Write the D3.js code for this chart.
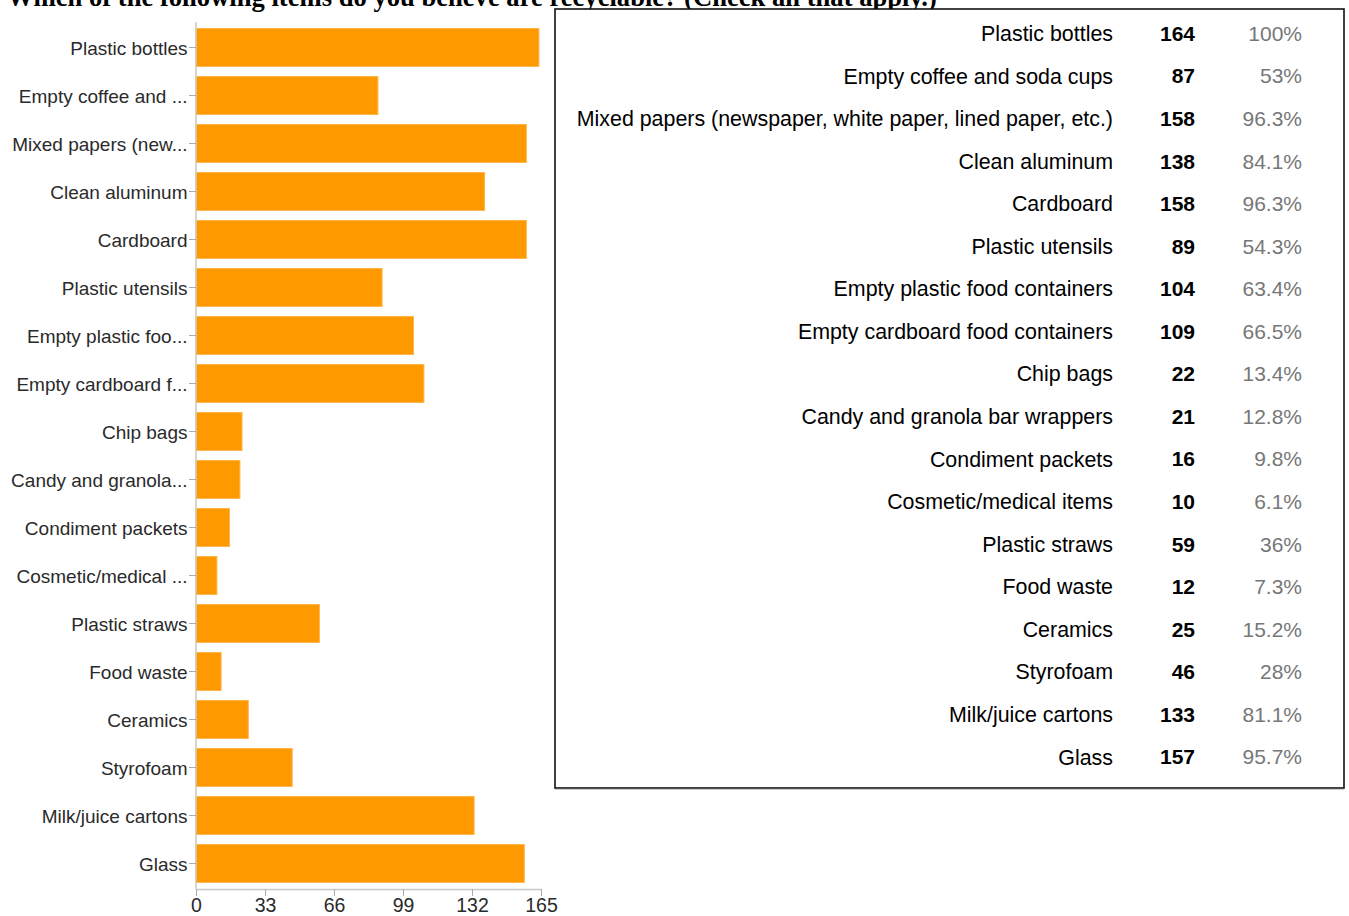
<!DOCTYPE html>
<html>
<head>
<meta charset="utf-8">
<script src="https://cdn.jsdelivr.net/npm/d3@7"></script>
<style>
  html, body { margin: 0; padding: 0; background: #fff; }
  svg { display: block; }
</style>
</head>
<body>
<svg id="chart" width="1349" height="916"></svg>
<script>
// Survey responses: items respondents believe are recyclable
const title = "Which of the following items do you believe are recyclable? (Check all that apply.)";
const items = [
  "Plastic bottles",
  "Empty coffee and soda cups",
  "Mixed papers (newspaper, white paper, lined paper, etc.)",
  "Clean aluminum",
  "Cardboard",
  "Plastic utensils",
  "Empty plastic food containers",
  "Empty cardboard food containers",
  "Chip bags",
  "Candy and granola bar wrappers",
  "Condiment packets",
  "Cosmetic/medical items",
  "Plastic straws",
  "Food waste",
  "Ceramics",
  "Styrofoam",
  "Milk/juice cartons",
  "Glass"
];
const counts = [164, 87, 158, 138, 158, 89, 104, 109, 22, 21, 16, 10, 59, 12, 25, 46, 133, 157];
const percents = ["100%", "53%", "96.3%", "84.1%", "96.3%", "54.3%", "63.4%", "66.5%", "13.4%",
  "12.8%", "9.8%", "6.1%", "36%", "7.3%", "15.2%", "28%", "81.1%", "95.7%"];
const xTicks = [0, 33, 66, 99, 132, 165];

const svg = d3.select("#chart");
const font = "Liberation Sans, Arial, Helvetica, sans-serif";

// Title (runs off the top edge of the page)
svg.append("text")
  .attr("x", 7).attr("y", 5.5)
  .attr("font-family", "Liberation Serif, Times New Roman, serif")
  .attr("font-weight", "bold")
  .attr("font-size", 26.6)
  .attr("fill", "#000")
  .text(title);

// ---- Bar chart ----
const x = d3.scaleLinear().domain([0, 165]).range([196, 541]);
const y = d3.scaleBand().domain(items).range([23.5, 887.5])
  .paddingInner(10 / 48).paddingOuter(5 / 48);

const shortLabel = s => s.length > 18 ? s.slice(0, 17) + "..." : s;

const g = svg.append("g");

g.selectAll("rect.bar")
  .data(items)
  .join("rect")
  .attr("class", "bar")
  .attr("x", x(0))
  .attr("y", d => y(d))
  .attr("width", (d, i) => x(counts[i]) - x(0))
  .attr("height", y.bandwidth())
  .attr("fill", "#ff9900")
  .attr("stroke", "#ffb547")
  .attr("stroke-width", 1);

// Left category axis
const yAxis = g.append("g")
  .attr("transform", `translate(${x(0)},0)`)
  .call(d3.axisLeft(y).tickSize(7).tickPadding(1.5).tickFormat(shortLabel));
yAxis.select(".domain").attr("d", `M0,22V889`).attr("stroke", "#c8c8c8").attr("stroke-width", 1.5);
yAxis.selectAll(".tick line").attr("stroke", "#aaa");
yAxis.selectAll(".tick text")
  .attr("dy", "0.42em")
  .attr("font-family", font).attr("font-size", 19).attr("fill", "#2a2a2a");

// Bottom value axis
const xAxis = g.append("g")
  .attr("transform", `translate(0,889)`)
  .call(d3.axisBottom(x).tickValues(xTicks).tickSize(7).tickPadding(3).tickSizeOuter(0));
xAxis.select(".domain").attr("stroke", "#c8c8c8").attr("stroke-width", 1.5);
xAxis.selectAll(".tick line").attr("stroke", "#aaa");
xAxis.selectAll(".tick text")
  .attr("dy", "0.68em")
  .attr("font-family", font).attr("font-size", 19.5).attr("fill", "#2a2a2a");

// ---- Summary table ----
const box = { x: 555, y: 9, w: 789, h: 779 };
svg.append("rect")
  .attr("x", box.x).attr("y", box.y).attr("width", box.w).attr("height", box.h)
  .attr("fill", "#fff").attr("stroke", "#111").attr("stroke-width", 1.6);
svg.append("line")
  .attr("x1", box.x).attr("x2", box.x + box.w)
  .attr("y1", box.y + box.h + 0.8).attr("y2", box.y + box.h + 0.8)
  .attr("stroke", "#555").attr("stroke-width", 1);

const rowY = d3.scalePoint().domain(items).range([33.5, 757]);

const rows = svg.append("g").selectAll("g.row")
  .data(items)
  .join("g")
  .attr("class", "row")
  .attr("transform", d => `translate(0,${rowY(d)})`);

rows.append("text")
  .attr("x", 1113).attr("dy", "0.35em")
  .attr("text-anchor", "end")
  .attr("font-family", font).attr("font-size", 21.4).attr("fill", "#000")
  .text(d => d);

rows.append("text")
  .attr("x", 1195).attr("dy", "0.35em")
  .attr("text-anchor", "end")
  .attr("font-family", font).attr("font-size", 21).attr("font-weight", "bold").attr("fill", "#000")
  .text((d, i) => counts[i]);

rows.append("text")
  .attr("x", 1302).attr("dy", "0.35em")
  .attr("text-anchor", "end")
  .attr("font-family", font).attr("font-size", 21).attr("fill", "#777")
  .text((d, i) => percents[i]);
</script>
</body>
</html>
